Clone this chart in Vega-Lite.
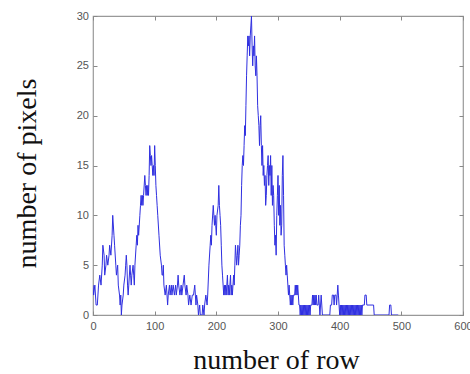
{
  "$schema": "https://vega.github.io/schema/vega-lite/v6.json",
  "width": 370,
  "height": 299,
  "autosize": {"type": "none"},
  "padding": {"left": 93, "top": 16, "right": 7, "bottom": 59},
  "background": "white",
  "config": {
    "view": {"stroke": "#999999", "strokeWidth": 1.2},
    "axis": {
      "domain": false,
      "grid": false,
      "tickColor": "#888888",
      "tickSize": -4,
      "labelColor": "#555555",
      "labelFont": "Liberation Sans",
      "labelFontSize": 11,
      "titleFont": "Liberation Serif",
      "titleFontSize": 28,
      "titleFontWeight": "normal",
      "titleColor": "#111111"
    }
  },
  "data": {"values": [
    {"r":0,"n":3},{"r":1,"n":2},{"r":3,"n":3},{"r":5,"n":1},{"r":7,"n":1},{"r":9,"n":3},{"r":11,"n":4},{"r":13,"n":3},{"r":15,"n":5},{"r":16,"n":7},{"r":18,"n":6},{"r":19,"n":4},{"r":21,"n":5},{"r":22,"n":6},{"r":24,"n":5},{"r":26,"n":6},{"r":27,"n":7},{"r":29,"n":6},{"r":31,"n":8},{"r":32,"n":10},{"r":34,"n":8},{"r":35,"n":7},{"r":37,"n":5},{"r":38,"n":4},{"r":40,"n":5},{"r":41,"n":3},{"r":43,"n":2},{"r":44,"n":1},{"r":45,"n":2},{"r":46,"n":0},{"r":47,"n":1},{"r":49,"n":2},{"r":50,"n":3},{"r":52,"n":4},{"r":53,"n":5},{"r":54,"n":6},{"r":55,"n":5},{"r":56,"n":3},{"r":57,"n":2},{"r":58,"n":3},{"r":60,"n":5},{"r":61,"n":4},{"r":62,"n":3},{"r":63,"n":4},{"r":65,"n":5},{"r":66,"n":4},{"r":67,"n":3},{"r":68,"n":5},{"r":70,"n":7},{"r":71,"n":8},{"r":72,"n":7},{"r":73,"n":9},{"r":74,"n":8},{"r":76,"n":10},{"r":77,"n":11},{"r":78,"n":12},{"r":79,"n":11},{"r":80,"n":12},{"r":81,"n":11},{"r":82,"n":12},{"r":84,"n":14},{"r":85,"n":13},{"r":86,"n":12},{"r":87,"n":13},{"r":88,"n":12},{"r":89,"n":13},{"r":90,"n":12},{"r":91,"n":14},{"r":92,"n":17},{"r":93,"n":16},{"r":94,"n":15},{"r":95,"n":16},{"r":96,"n":15},{"r":97,"n":14},{"r":98,"n":15},{"r":99,"n":14},{"r":100,"n":17},{"r":101,"n":15},{"r":102,"n":13},{"r":103,"n":12},{"r":104,"n":11},{"r":105,"n":10},{"r":107,"n":8},{"r":109,"n":6},{"r":111,"n":5},{"r":112,"n":4},{"r":113,"n":4},{"r":114,"n":5},{"r":115,"n":3},{"r":117,"n":2},{"r":119,"n":3},{"r":120,"n":2},{"r":121,"n":1},{"r":122,"n":2},{"r":124,"n":3},{"r":125,"n":2},{"r":127,"n":3},{"r":128,"n":2},{"r":130,"n":3},{"r":132,"n":2},{"r":134,"n":3},{"r":135,"n":2},{"r":137,"n":3},{"r":138,"n":4},{"r":139,"n":3},{"r":141,"n":2},{"r":143,"n":3},{"r":144,"n":2},{"r":146,"n":3},{"r":148,"n":4},{"r":149,"n":3},{"r":151,"n":2},{"r":152,"n":3},{"r":154,"n":2},{"r":155,"n":1},{"r":157,"n":2},{"r":159,"n":1},{"r":161,"n":2},{"r":163,"n":2},{"r":165,"n":3},{"r":166,"n":2},{"r":167,"n":1},{"r":168,"n":2},{"r":170,"n":1},{"r":171,"n":0},{"r":173,"n":1},{"r":174,"n":0},{"r":177,"n":0},{"r":178,"n":1},{"r":180,"n":0},{"r":181,"n":1},{"r":183,"n":2},{"r":185,"n":1},{"r":186,"n":2},{"r":188,"n":5},{"r":190,"n":7},{"r":191,"n":8},{"r":192,"n":7},{"r":193,"n":9},{"r":195,"n":11},{"r":196,"n":10},{"r":197,"n":9},{"r":198,"n":10},{"r":199,"n":9},{"r":200,"n":8},{"r":201,"n":10},{"r":203,"n":11},{"r":204,"n":13},{"r":205,"n":11},{"r":206,"n":10},{"r":207,"n":9},{"r":208,"n":7},{"r":209,"n":5},{"r":210,"n":4},{"r":211,"n":3},{"r":212,"n":2},{"r":213,"n":3},{"r":214,"n":2},{"r":215,"n":3},{"r":216,"n":2},{"r":217,"n":3},{"r":218,"n":4},{"r":219,"n":2},{"r":220,"n":3},{"r":221,"n":2},{"r":222,"n":3},{"r":223,"n":4},{"r":224,"n":2},{"r":225,"n":3},{"r":226,"n":2},{"r":227,"n":3},{"r":228,"n":4},{"r":229,"n":3},{"r":230,"n":5},{"r":231,"n":7},{"r":232,"n":6},{"r":233,"n":5},{"r":234,"n":6},{"r":235,"n":7},{"r":236,"n":5},{"r":237,"n":6},{"r":238,"n":7},{"r":239,"n":9},{"r":240,"n":10},{"r":241,"n":13},{"r":242,"n":15},{"r":243,"n":16},{"r":244,"n":15},{"r":245,"n":17},{"r":246,"n":19},{"r":247,"n":18},{"r":248,"n":21},{"r":249,"n":24},{"r":250,"n":26},{"r":251,"n":28},{"r":252,"n":27},{"r":253,"n":28},{"r":254,"n":26},{"r":255,"n":28},{"r":256,"n":29},{"r":257,"n":30},{"r":258,"n":27},{"r":259,"n":25},{"r":260,"n":27},{"r":261,"n":26},{"r":262,"n":28},{"r":263,"n":25},{"r":264,"n":24},{"r":265,"n":26},{"r":266,"n":24},{"r":267,"n":21},{"r":268,"n":20},{"r":269,"n":19},{"r":270,"n":17},{"r":271,"n":19},{"r":272,"n":20},{"r":273,"n":17},{"r":274,"n":15},{"r":275,"n":17},{"r":276,"n":14},{"r":277,"n":15},{"r":278,"n":13},{"r":279,"n":14},{"r":280,"n":11},{"r":281,"n":12},{"r":282,"n":14},{"r":283,"n":15},{"r":284,"n":16},{"r":285,"n":13},{"r":286,"n":15},{"r":287,"n":14},{"r":288,"n":16},{"r":289,"n":12},{"r":290,"n":15},{"r":291,"n":11},{"r":292,"n":13},{"r":293,"n":12},{"r":294,"n":9},{"r":295,"n":7},{"r":296,"n":8},{"r":297,"n":6},{"r":298,"n":10},{"r":299,"n":12},{"r":300,"n":14},{"r":301,"n":10},{"r":302,"n":13},{"r":303,"n":9},{"r":304,"n":11},{"r":305,"n":8},{"r":306,"n":9},{"r":307,"n":14},{"r":308,"n":16},{"r":309,"n":12},{"r":310,"n":7},{"r":311,"n":6},{"r":312,"n":5},{"r":313,"n":4},{"r":314,"n":5},{"r":315,"n":4},{"r":316,"n":3},{"r":317,"n":2},{"r":318,"n":3},{"r":319,"n":2},{"r":320,"n":1},{"r":321,"n":2},{"r":322,"n":1},{"r":323,"n":2},{"r":324,"n":1},{"r":325,"n":2},{"r":327,"n":2},{"r":328,"n":3},{"r":329,"n":2},{"r":330,"n":3},{"r":331,"n":2},{"r":332,"n":3},{"r":333,"n":2},{"r":334,"n":1},{"r":335,"n":1},{"r":336,"n":0},{"r":337,"n":1},{"r":338,"n":0},{"r":339,"n":1},{"r":340,"n":0},{"r":341,"n":1},{"r":342,"n":0},{"r":343,"n":1},{"r":344,"n":0},{"r":345,"n":1},{"r":346,"n":0},{"r":347,"n":1},{"r":348,"n":0},{"r":349,"n":1},{"r":350,"n":0},{"r":351,"n":1},{"r":352,"n":0},{"r":353,"n":1},{"r":354,"n":1},{"r":355,"n":1},{"r":356,"n":2},{"r":357,"n":1},{"r":358,"n":2},{"r":359,"n":1},{"r":360,"n":2},{"r":361,"n":1},{"r":362,"n":2},{"r":363,"n":1},{"r":365,"n":1},{"r":366,"n":2},{"r":367,"n":1},{"r":368,"n":0},{"r":369,"n":1},{"r":370,"n":2},{"r":371,"n":1},{"r":372,"n":0},{"r":384,"n":0},{"r":385,"n":1},{"r":387,"n":1},{"r":388,"n":2},{"r":390,"n":2},{"r":391,"n":1},{"r":392,"n":2},{"r":394,"n":2},{"r":395,"n":1},{"r":396,"n":2},{"r":397,"n":3},{"r":398,"n":2},{"r":399,"n":1},{"r":400,"n":0},{"r":401,"n":1},{"r":402,"n":0},{"r":403,"n":1},{"r":404,"n":0},{"r":405,"n":1},{"r":406,"n":0},{"r":407,"n":1},{"r":408,"n":0},{"r":409,"n":1},{"r":410,"n":0},{"r":411,"n":1},{"r":412,"n":0},{"r":413,"n":1},{"r":414,"n":0},{"r":415,"n":1},{"r":416,"n":0},{"r":417,"n":1},{"r":418,"n":0},{"r":419,"n":1},{"r":420,"n":0},{"r":421,"n":1},{"r":422,"n":0},{"r":423,"n":1},{"r":424,"n":0},{"r":425,"n":1},{"r":426,"n":0},{"r":427,"n":1},{"r":428,"n":0},{"r":429,"n":1},{"r":430,"n":0},{"r":431,"n":1},{"r":432,"n":0},{"r":433,"n":1},{"r":434,"n":0},{"r":435,"n":1},{"r":436,"n":0},{"r":437,"n":1},{"r":440,"n":1},{"r":441,"n":2},{"r":443,"n":2},{"r":444,"n":1},{"r":455,"n":1},{"r":456,"n":0},{"r":480,"n":0},{"r":481,"n":1},{"r":483,"n":1},{"r":484,"n":0},{"r":495,"n":0}
  ]},
  "layer": [
    {
      "mark": {"type": "line", "color": "#2f2fe0", "strokeWidth": 1, "clip": true},
      "encoding": {
        "x": {"field": "r", "type": "quantitative", "scale": {"domain": [0, 600], "nice": false},
              "axis": {"orient": "bottom", "values": [0,100,200,300,400,500,600], "labelPadding": 9, "labelFlush": false,
                       "title": "number of row", "titleX": 183, "titleY": 53, "titleBaseline": "alphabetic", "titleAlign": "center", "titleAnchor": null}},
        "y": {"field": "n", "type": "quantitative", "scale": {"domain": [0, 30], "nice": false},
              "axis": {"orient": "left", "values": [0,5,10,15,20,25,30], "labelPadding": 8.5, "labelFlush": false,
                       "title": "number of pixels", "titleX": -58, "titleY": 157, "titleAngle": -90, "titleBaseline": "alphabetic", "titleAlign": "center", "titleAnchor": null}}
      }
    },
    {
      "mark": {"type": "line", "opacity": 0},
      "encoding": {
        "x": {"field": "r", "type": "quantitative", "scale": {"domain": [0, 600], "nice": false},
              "axis": {"orient": "top", "values": [0,100,200,300,400,500,600], "labels": false, "title": null}},
        "y": {"field": "n", "type": "quantitative", "scale": {"domain": [0, 30], "nice": false},
              "axis": {"orient": "right", "values": [0,5,10,15,20,25,30], "labels": false, "title": null}}
      }
    }
  ],
  "resolve": {"axis": {"x": "independent", "y": "independent"}}
}
